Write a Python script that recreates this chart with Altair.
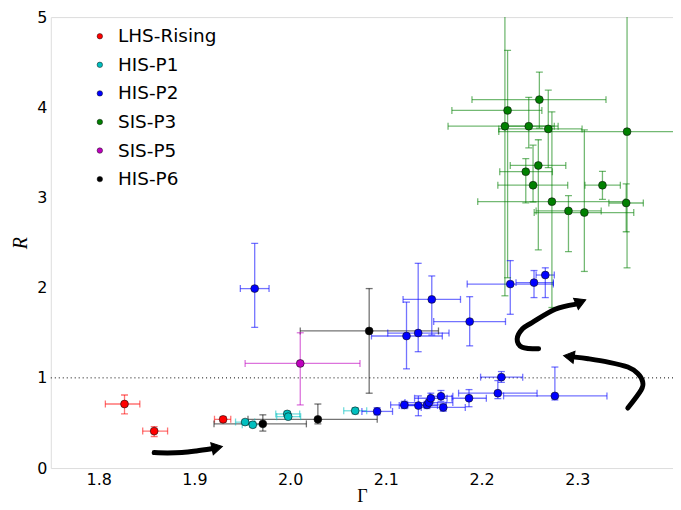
import altair as alt
import pandas as pd

# ---------------- data ----------------
order = ["LHS-Rising", "HIS-P1", "HIS-P2", "SIS-P3", "SIS-P5", "HIS-P6"]
palette = ["#ff0000", "#00bfbf", "#0000ff", "#008000", "#bf00bf", "#000000"]

group = (["LHS-Rising"] * 3 + ["HIS-P1"] * 5 + ["HIS-P6"] * 3 + ["SIS-P5"] * 1
         + ["HIS-P2"] * 20 + ["SIS-P3"] * 14)

gamma = [1.827, 1.858, 1.930,
         1.953, 1.961, 1.997, 1.998, 2.068,
         1.9715, 2.029, 2.0826,
         2.0106,
         1.963, 2.1216, 2.1338, 2.148, 2.1876, 2.230, 2.2548, 2.2666,
         2.0909, 2.1193, 2.134, 2.143, 2.145, 2.147, 2.1576, 2.160, 2.1869, 2.217,
         2.2207, 2.2766,
         2.2604, 2.2272, 2.2244, 2.2493, 2.2697, 2.352, 2.2593, 2.2462, 2.2538,
         2.3263, 2.2735, 2.3511, 2.2908, 2.3074]

R = [0.71, 0.41, 0.54,
     0.51, 0.48, 0.60, 0.57, 0.635,
     0.49, 0.54, 1.52,
     1.16,
     1.99, 1.464, 1.497, 1.87, 1.624, 2.04, 2.056, 2.14,
     0.628, 0.70, 0.693, 0.70, 0.726, 0.774, 0.796, 0.672, 0.774, 0.83,
     1.008, 0.80,
     4.085, 3.965, 3.79, 3.79, 3.76, 3.73, 3.355, 3.286, 3.136,
     3.136, 2.954, 2.939, 2.851, 2.833]

gamma_lo = [1.807, 1.846, 1.921,
            1.943, 1.950, 1.985, 1.986, 2.056,
            1.9205, 1.956, 2.0106,
            1.953,
            1.948, 2.085, 2.102, 2.118, 2.150, 2.185, 2.236, 2.257,
            2.075, 2.105, 2.114, 2.123, 2.120, 2.130, 2.146, 2.137, 2.169, 2.176,
            2.199, 2.223,
            2.190, 2.169, 2.165, 2.222, 2.218, 2.218, 2.230, 2.219, 2.217,
            2.308, 2.196, 2.333, 2.257, 2.255]

gamma_hi = [1.843, 1.872, 1.938,
            1.963, 1.972, 2.010, 2.011, 2.080,
            2.017, 2.091, 2.155,
            2.073,
            1.978, 2.159, 2.166, 2.178, 2.225, 2.275, 2.275, 2.276,
            2.107, 2.135, 2.154, 2.163, 2.170, 2.164, 2.170, 2.183, 2.205, 2.258,
            2.243, 2.331,
            2.330, 2.263, 2.280, 2.276, 2.305, 2.486, 2.288, 2.274, 2.290,
            2.345, 2.350, 2.369, 2.325, 2.359]

R_lo = [0.60, 0.35, 0.51,
        0.49, 0.45, 0.57, 0.54, 0.60,
        0.41, 0.49, 0.83,
        0.70,
        1.56, 1.10, 1.29, 1.475, 1.355, 1.705, 1.89, 1.89,
        0.59, 0.66, 0.58, 0.66, 0.69, 0.72, 0.74, 0.63, 0.68, 0.77,
        0.95, 0.755,
        3.77, 2.11, 1.91, 3.55, 3.33, 2.22, 2.42, 2.94, 2.95,
        2.98, 1.78, 2.62, 2.40, 2.18]

R_hi = [0.81, 0.46, 0.57,
        0.53, 0.51, 0.63, 0.60, 0.67,
        0.59, 0.71, 1.99,
        1.50,
        2.49, 1.84, 2.27, 2.13, 1.90, 2.30, 2.19, 2.22,
        0.67, 0.74, 0.80, 0.74, 0.76, 0.83, 0.86, 0.71, 0.87, 0.97,
        1.07, 1.12,
        4.39, 4.63, 5.67, 4.11, 4.19, 5.24, 3.64, 3.43, 3.58,
        3.29, 3.95, 3.15, 3.02, 3.75]

# hand-drawn arrows (data units)
arrow_id = [1] * 5 + [2] * 7 + [3] * 8
arrow_gamma = [1.858, 1.872, 1.887, 1.902, 1.918,
               2.2596, 2.2424, 2.2372, 2.2428, 2.2528, 2.2769, 2.2976,
               2.3528, 2.3667, 2.3683, 2.3632, 2.3528, 2.3321, 2.3114, 2.2976]
arrow_R = [0.172, 0.168, 0.173, 0.19, 0.214,
           1.322, 1.340, 1.431, 1.544, 1.613, 1.760, 1.815,
           0.665, 0.865, 0.956, 1.048, 1.120, 1.175, 1.212, 1.230]
head_gamma = [1.922, 2.3020, 2.2930]
head_R = [0.222, 1.835, 1.234]
head_angle = [78, 67, 279]

# ---------------- tables ----------------
df = pd.DataFrame({"group": group, "G": gamma, "R": R,
                   "Glo": gamma_lo, "Ghi": gamma_hi, "Rlo": R_lo, "Rhi": R_hi})
arrows = pd.DataFrame({"id": arrow_id, "G": arrow_gamma, "R": arrow_R,
                       "k": list(range(len(arrow_id)))})
heads = pd.DataFrame({"G": head_gamma, "R": head_R, "ang": head_angle})

xs = alt.Scale(domain=[1.75, 2.4], nice=False, zero=False)
ys = alt.Scale(domain=[0, 5], nice=False, zero=False)
col_nolegend = alt.Color("group:N", scale=alt.Scale(domain=order, range=palette), legend=None)

base = alt.Chart(df)
bar_op = 0.55
bw = 1.3

h_rule = base.mark_rule(opacity=bar_op, strokeWidth=bw, clip=True).encode(
    x=alt.X("Glo:Q", scale=xs), x2="Ghi:Q", y=alt.Y("R:Q", scale=ys), color=col_nolegend)
h_cap_lo = base.mark_tick(orient="vertical", size=7, thickness=bw, opacity=bar_op, clip=True).encode(
    x=alt.X("Glo:Q", scale=xs), y=alt.Y("R:Q", scale=ys), color=col_nolegend)
h_cap_hi = base.mark_tick(orient="vertical", size=7, thickness=bw, opacity=bar_op, clip=True).encode(
    x=alt.X("Ghi:Q", scale=xs), y=alt.Y("R:Q", scale=ys), color=col_nolegend)
v_rule = base.mark_rule(opacity=bar_op, strokeWidth=bw, clip=True).encode(
    x=alt.X("G:Q", scale=xs), y=alt.Y("Rlo:Q", scale=ys), y2="Rhi:Q", color=col_nolegend)
v_cap_lo = base.mark_tick(orient="horizontal", size=7, thickness=bw, opacity=bar_op, clip=True).encode(
    x=alt.X("G:Q", scale=xs), y=alt.Y("Rlo:Q", scale=ys), color=col_nolegend)
v_cap_hi = base.mark_tick(orient="horizontal", size=7, thickness=bw, opacity=bar_op, clip=True).encode(
    x=alt.X("G:Q", scale=xs), y=alt.Y("Rhi:Q", scale=ys), color=col_nolegend)

hline = alt.Chart(pd.DataFrame({"y": [1.0]})).mark_rule(
    color="black", strokeWidth=1, strokeDash=[1, 3]).encode(y=alt.Y("y:Q", scale=ys))

arrow_lines = alt.Chart(arrows).mark_line(
    color="black", strokeWidth=5, strokeCap="round", strokeJoin="round",
    interpolate="cardinal").encode(
    x=alt.X("G:Q", scale=xs), y=alt.Y("R:Q", scale=ys), detail="id:N", order="k:Q")
arrow_heads = alt.Chart(heads).mark_point(
    shape="triangle", filled=True, fill="black", stroke="black", strokeWidth=1,
    size=150, opacity=1).encode(
    x=alt.X("G:Q", scale=xs), y=alt.Y("R:Q", scale=ys), angle=alt.Angle("ang:Q", scale=None))

points = base.mark_point(filled=True, size=62, stroke="#111111", strokeWidth=0.6, opacity=1).encode(
    x=alt.X("G:Q", scale=xs,
            axis=alt.Axis(title="Γ", values=[1.8, 1.9, 2.0, 2.1, 2.2, 2.3], format=".1f",
                          labelFontSize=16, labelFont="DejaVu Sans", labelColor="black",
                          titleFont="Liberation Serif", titleFontSize=18, titleFontWeight="normal",
                          titlePadding=0, labelPadding=4, ticks=False, domain=False, grid=False)),
    y=alt.Y("R:Q", scale=ys,
            axis=alt.Axis(title="R", values=[0, 1, 2, 3, 4, 5], format="d",
                          labelFontSize=16, labelFont="DejaVu Sans", labelColor="black",
                          titleFont="Liberation Serif", titleFontSize=20, titleFontStyle="italic",
                          titleFontWeight="normal", titlePadding=6, labelPadding=4,
                          ticks=False, domain=False, grid=False)),
    color=alt.Color("group:N", scale=alt.Scale(domain=order, range=palette),
                    legend=alt.Legend(title=None, orient="none", legendX=40, legendY=10,
                                      labelFontSize=18.5, labelFont="DejaVu Sans", labelColor="black",
                                      symbolType="circle", symbolSize=30,
                                      symbolStrokeColor="#111111", symbolStrokeWidth=0.5,
                                      rowPadding=9.7, labelOffset=9, padding=0)),
)

chart = alt.layer(
    hline, h_rule, h_cap_lo, h_cap_hi, v_rule, v_cap_lo, v_cap_hi,
    arrow_lines, arrow_heads, points
).resolve_legend(color="independent").properties(
    width=625, height=453,
    autosize=alt.AutoSizeParams(type="none"),
    padding={"left": 43, "top": 8, "right": 0, "bottom": 41},
).configure_view(stroke="#222222", strokeWidth=1.2).configure(background="white")

chart.save("out.html", embed_options={"renderer": "svg", "actions": False})
